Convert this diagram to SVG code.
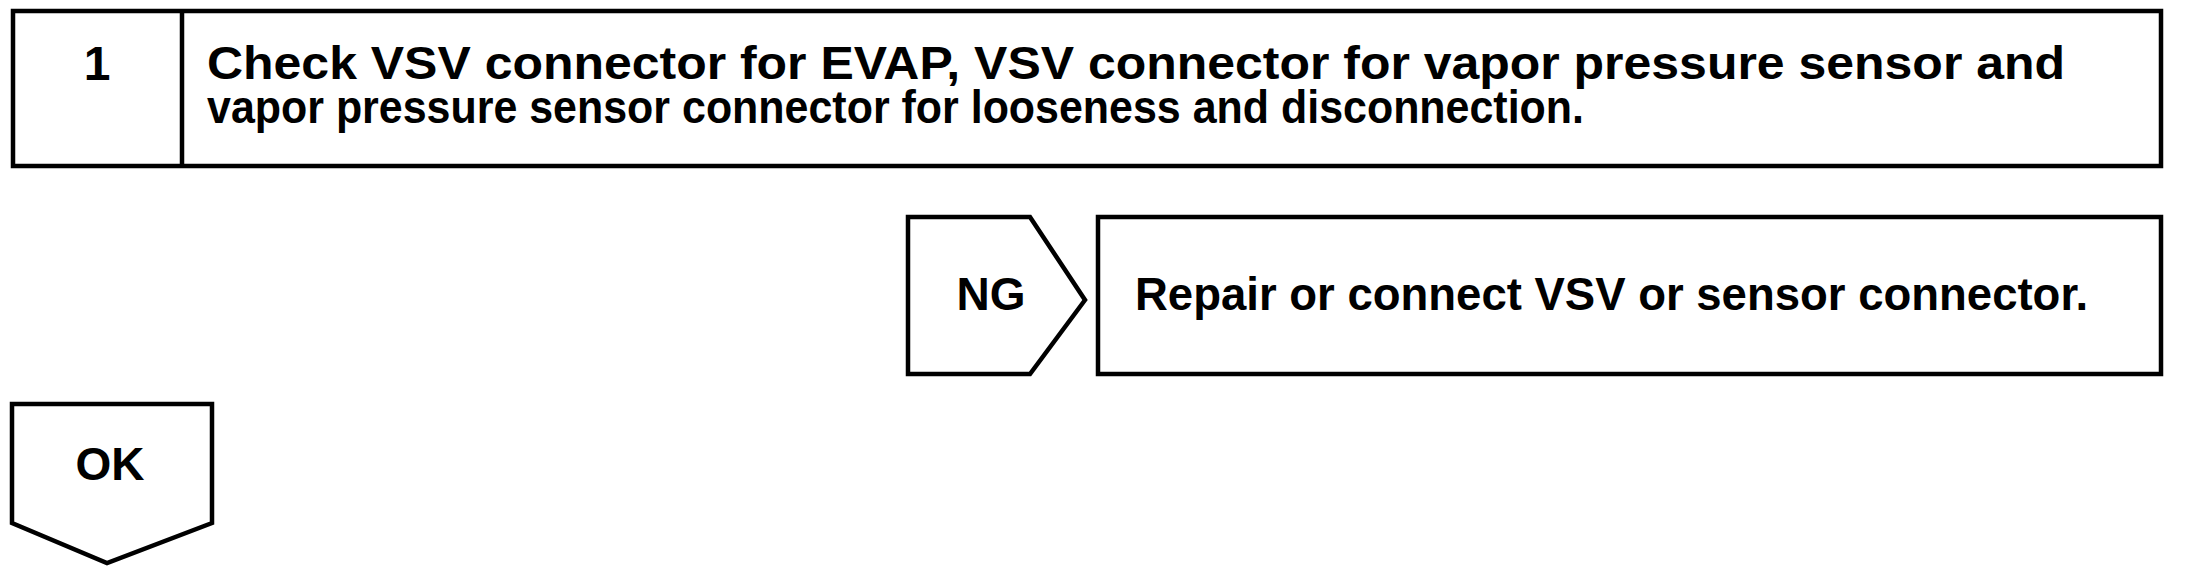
<svg xmlns="http://www.w3.org/2000/svg" width="2208" height="576" viewBox="0 0 2208 576">
<style>
.box{fill:#fff;stroke:#000;stroke-width:4.5;stroke-linejoin:miter}
.t{font-family:"Liberation Sans",Arial,sans-serif;font-weight:bold;fill:#000}
</style>
<rect width="2208" height="576" fill="#fff"/>
<g id="step1">
<rect class="box" x="13" y="11" width="2148" height="155"/>
<line class="box" x1="182" y1="11" x2="182" y2="166"/>
<text class="t" x="97" y="80" font-size="48" text-anchor="middle">1</text>
<text class="t" x="207" y="79" font-size="46" textLength="1858" lengthAdjust="spacingAndGlyphs">Check VSV connector for EVAP, VSV connector for vapor pressure sensor and</text>
<text class="t" x="207" y="123" font-size="46" textLength="1377" lengthAdjust="spacingAndGlyphs">vapor pressure sensor connector for looseness and disconnection.</text>
</g>
<g id="ng">
<polygon class="box" points="908,217 1030,217 1085,300 1030,374 908,374"/>
<text class="t" x="991" y="310" font-size="46" text-anchor="middle">NG</text>
</g>
<g id="repair">
<rect class="box" x="1098" y="217" width="1063" height="157"/>
<text class="t" x="1135" y="310" font-size="45.5">Repair or connect VSV or sensor connector.</text>
</g>
<g id="ok">
<polygon class="box" points="12,404 212,404 212,523 107,563 12,523"/>
<text class="t" x="110" y="480" font-size="46" text-anchor="middle">OK</text>
</g>
<g id="connectors"></g>
</svg>
